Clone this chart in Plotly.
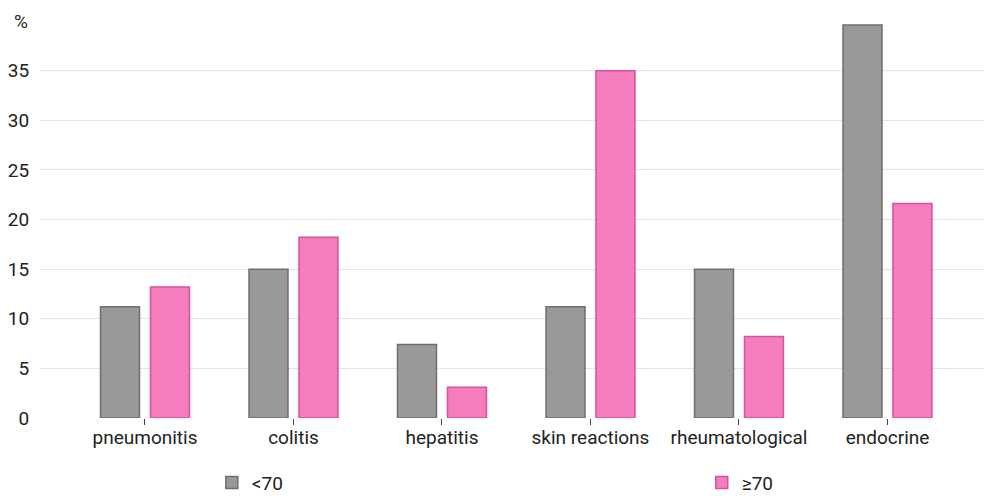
import plotly.graph_objects as go

categories = ["pneumonitis", "colitis", "hepatitis", "skin reactions", "rheumatological", "endocrine"]
under70 = [11.2, 15.0, 7.4, 11.2, 15.0, 39.6]
over70 = [13.2, 18.2, 3.1, 35.0, 8.2, 21.6]
series_names = ["<70", "≥70"]
y_ticks = [0, 5, 10, 15, 20, 25, 30, 35]

FS = 19

fig = go.Figure()
fig.add_trace(go.Bar(x=categories, y=under70, name=series_names[0], legend="legend",
                     marker=dict(color="#999999", line=dict(color="#6E6E6E", width=1.5))))
fig.add_trace(go.Bar(x=categories, y=over70, name=series_names[1], legend="legend2",
                     marker=dict(color="#F47DBE", line=dict(color="#D9509C", width=1.5))))

leg_common = dict(orientation="h", y=-0.115, xanchor="left", yanchor="top",
                  font=dict(size=FS, color="#222222"), bgcolor="rgba(0,0,0,0)")

fig.update_layout(
    width=984, height=496,
    margin=dict(l=40, r=0, t=21, b=78, autoexpand=False),
    paper_bgcolor="white", plot_bgcolor="white",
    font=dict(family="Roboto", size=FS, color="#222222"),
    barmode="group", bargap=0.327, bargroupgap=0.22,
    showlegend=True,
    legend=dict(x=0.182, **leg_common),
    legend2=dict(x=0.701, **leg_common),
    xaxis=dict(range=[-0.707, 5.65], showgrid=False, showline=False, zeroline=False,
               ticks="outside", ticklen=6, tickcolor="#444444", tickwidth=1,
               ticklabelstandoff=-4,
               tickfont=dict(size=FS, color="#222222")),
    yaxis=dict(range=[0, 40], tickvals=y_ticks, showgrid=True, gridcolor="#E3E3E3",
               gridwidth=1, zeroline=False, showline=False,
               ticks="outside", ticklen=6, tickcolor="rgba(0,0,0,0)",
               tickfont=dict(size=FS, color="#222222")),
    annotations=[dict(text="%", xref="paper", yref="paper", x=-0.020, y=1.0,
                      xanchor="center", yanchor="middle", showarrow=False,
                      font=dict(size=FS, color="#222222"))],
)

fig.write_html("out.html", config={"displayModeBar": False},
               post_script="document.body.style.margin='0';document.body.style.overflow='hidden';")
